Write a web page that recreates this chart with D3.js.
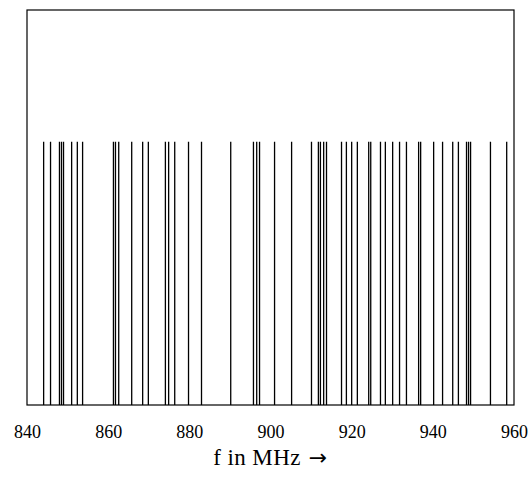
<!DOCTYPE html>
<html>
<head>
<meta charset="utf-8">
<script src="https://cdn.jsdelivr.net/npm/d3@7"></script>
<style>
  body { margin: 0; background: #fff; }
  text { font-family: "Liberation Serif", "DejaVu Serif", serif; fill: #000; }
</style>
</head>
<body>
<svg></svg>
<script>
const width = 529;
const height = 477;
const margin = {top: 10, right: 15, bottom: 72, left: 27};

// carrier frequencies in MHz, all with the same amplitude
const freqs = [844.1, 845.8, 848.0, 848.5, 849.0, 851.0, 852.4, 853.7,
  861.3, 861.8, 862.6, 865.8, 868.5, 869.9, 874.1, 874.9, 876.4, 879.8,
  883.0, 890.2, 895.8, 896.6, 897.3, 901.0, 905.2, 910.1, 911.8, 912.3,
  913.1, 913.8, 917.5, 918.7, 920.0, 921.4, 924.2, 924.7, 927.1, 928.3,
  930.1, 931.8, 933.5, 936.5, 937.0, 940.2, 942.4, 944.9, 946.3, 948.3,
  948.8, 949.3, 954.2, 958.2];
const amps = freqs.map(() => 1);
const xTicks = [840, 860, 880, 900, 920, 940, 960];
const xLabel = "f in MHz";

const svg = d3.select("svg")
    .attr("width", width)
    .attr("height", height);

const xScale = d3.scaleLinear()
    .domain([840, 960])
    .range([margin.left, width - margin.right]);
const yScale = d3.scaleLinear()
    .domain([0, 1.5])
    .range([height - margin.bottom, margin.top]);

svg.append("g")
    .selectAll("line")
    .data(freqs)
    .enter()
    .append("line")
        .attr("x1", d => xScale(d))
        .attr("x2", d => xScale(d))
        .attr("y1", yScale(0))
        .attr("y2", (d, i) => yScale(amps[i]))
        .attr("stroke", "#000")
        .attr("stroke-width", 1.3);

const xAxis = d3.axisBottom(xScale)
    .tickValues(xTicks)
    .tickSize(0)
    .tickPadding(20);

const gx = svg.append("g")
    .attr("transform", "translate(0," + (height - margin.bottom) + ")")
    .call(xAxis);
gx.select(".domain").remove();
gx.selectAll("text")
    .style("font-size", "18px")
    .style("font-family", "'Liberation Serif', serif");

svg.append("rect")
    .attr("x", margin.left)
    .attr("y", margin.top)
    .attr("width", width - margin.left - margin.right)
    .attr("height", height - margin.top - margin.bottom)
    .attr("fill", "none")
    .attr("stroke", "#000")
    .attr("stroke-width", 1.2);

const title = svg.append("text")
    .attr("x", (margin.left + width - margin.right) / 2)
    .attr("y", height - margin.bottom + 60)
    .style("text-anchor", "middle")
    .style("font-size", "23px")
    .style("letter-spacing", "0.4px")
    .text(xLabel);
title.append("tspan")
    .attr("dx", 8)
    .style("font-family", "'DejaVu Sans', sans-serif")
    .style("font-size", "22px")
    .text("\u2192");
</script>
</body>
</html>
